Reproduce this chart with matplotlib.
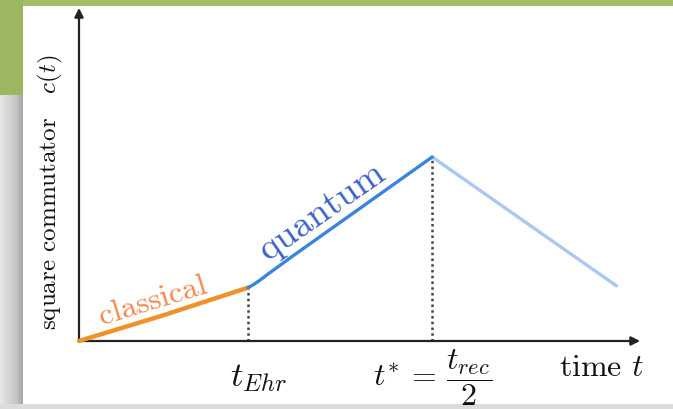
import matplotlib
matplotlib.use("Agg")
import matplotlib.pyplot as plt
import numpy as np
from matplotlib.patches import Rectangle

plt.rcParams['mathtext.fontset'] = 'cm'
plt.rcParams['font.family'] = ['cmr10', 'DejaVu Serif']
plt.rcParams['axes.unicode_minus'] = False

# time in units of the Ehrenfest time, c(t) normalised to its peak
t_ehr = 1.0
t_star = 2.09
t_end = 3.18

classical_t = [0.0, 0.5, t_ehr]
classical_c = [0.0, 0.14, 0.29]

quantum_t = [t_ehr, 1.03, 1.07, 1.12, 1.18, 1.25, t_star]
quantum_c = [0.29, 0.305, 0.33, 0.365, 0.405, 0.452, 1.0]

decay_t = [t_star, t_end]
decay_c = [1.0, 0.30]

W, H = 673, 409
fig = plt.figure(figsize=(W / 100, H / 100), dpi=100)

# slide-style frame: green header, grey shadow on the left, white panel
def px_rect(x0, y0, w, h, color):
    fig.patches.append(Rectangle((x0 / W, 1 - (y0 + h) / H), w / W, h / H,
                                 transform=fig.transFigure, color=color,
                                 zorder=-10, lw=0))

px_rect(0, 0, W, H, '#ffffff')
px_rect(0, 0, W, 6, '#a3bd68')
px_rect(0, 0, 23, 95, '#9bb760')
shade = np.concatenate([np.linspace(0.90, 0.76, 18), np.linspace(0.72, 0.66, 5)])
for i, g in enumerate(shade):
    px_rect(i, 95, 1.2, H - 95, (g, g, g))
px_rect(0, 404, W, 5, '#dcdcdc')

ax = fig.add_axes([0, 0, 1, 1])
ax.set_zorder(5)
ax.set_facecolor('none')
sx, sy = 169.0, 184.0  # pixels per data unit
ax.set_xlim(-79 / sx, (W - 79) / sx)
ax.set_ylim(-(H - 341) / sy, 341 / sy)
ax.axis('off')

# axes with arrow heads
ax.annotate('', xy=(3.32, 0), xytext=(0, 0),
            arrowprops=dict(arrowstyle='-|>', color='#222222', lw=1.6,
                            mutation_scale=13, shrinkA=0, shrinkB=0))
ax.annotate('', xy=(0, 1.81), xytext=(0, 0),
            arrowprops=dict(arrowstyle='-|>', color='#222222', lw=1.6,
                            mutation_scale=13, shrinkA=0, shrinkB=0))

ax.vlines([t_ehr], 0, classical_c[-1], colors='#444444', lw=1.8,
          linestyles=(0, (1.0, 1.3)), zorder=1)
ax.vlines([t_star], 0, decay_c[0], colors='#444444', lw=1.8,
          linestyles=(0, (1.0, 1.3)), zorder=1)

ax.plot(classical_t, classical_c, color='#f0922c', lw=3.2,
        solid_capstyle='round', zorder=3)
ax.plot(quantum_t, quantum_c, color='#3a84dd', lw=2.4,
        solid_capstyle='round', solid_joinstyle='round', zorder=3)
ax.plot(decay_t, decay_c, color='#a9c9f0', lw=2.4,
        solid_capstyle='round', zorder=2)

ax.text(0.44, 0.215, 'classical', color='#f4874a', fontsize=23,
        rotation=17, ha='center', va='center')
ax.text(1.44, 0.705, 'quantum', color='#3f62c9', fontsize=27,
        rotation=35, ha='center', va='center')

ax.text(-0.17, 0.06, r'square commutator   $c(t)$', fontsize=18,
        rotation=90, ha='center', va='bottom', color='#111111')
ax.text(3.09, -0.15, r'time $t$', fontsize=23, ha='center',
        va='center', color='#111111')
ax.text(t_ehr + 0.06, -0.2, r'$t_{Ehr}$', fontsize=25, ha='center',
        va='center', color='#111111')
ax.text(t_star, -0.2, r'$t^{*}\,=\,\dfrac{t_{rec}}{2}$', fontsize=23,
        ha='center', va='center', color='#111111')

fig.savefig('out.png', dpi=100)
